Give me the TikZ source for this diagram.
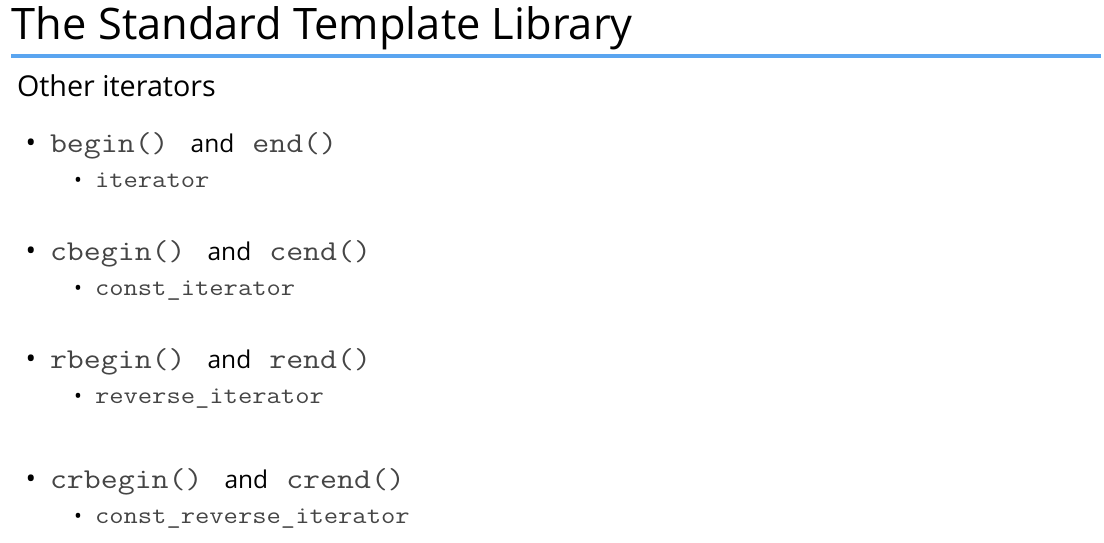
\documentclass[tikz,border=0pt]{standalone}
\usepackage{fontspec}
\setmainfont{Open Sans}
\newfontfamily\codefont[FakeStretch=1.143]{Latin Modern Mono}
\definecolor{rulecol}{HTML}{5AA5F0}
\definecolor{codecol}{HTML}{454545}
\newcommand{\cd}[1]{{\codefont\color{codecol}#1}}
\begin{document}
\begin{tikzpicture}[x=1pt,y=-1pt,
  txt/.style={anchor=base west,inner sep=0pt,outer sep=0pt},
  mainline/.style={txt,font=\fontsize{24.5}{28}\selectfont},
  subline/.style={txt,font=\fontsize{20}{24}\selectfont},
  bul/.style={anchor=base,inner sep=0pt,font=\fontsize{28}{30}\selectfont},
  sbul/.style={anchor=base,inner sep=0pt,font=\fontsize{21}{24}\selectfont}]
\useasboundingbox[fill=white] (0,0) rectangle (1104,543);
\node[txt,font=\fontsize{43.4}{48}\selectfont] (title) at (12,40) {The Standard Template Library};
\coordinate (rl) at (11,56);
\coordinate (rr) at (1101,56);
\draw[rulecol,line width=4pt] (rl) -- (rr);
\node[txt,font=\fontsize{28.7}{33}\selectfont] (sub) at (17,97) {Other iterators};
% rows
\foreach \y/\a/\b/\it/\n in {152/begin()/end()/iterator/r1, 260/cbegin()/cend()/const\_iterator/r2, 368/rbegin()/rend()/reverse\_iterator/r3, 488/crbegin()/crend()/const\_reverse\_iterator/r4}{
  \node[bul] (\n b) at (31,\y) {•};
  \node[mainline] (\n t) at (50,\y) {{\fontsize{28.8}{30}\selectfont\cd{\a}}\hspace{22pt}and\hspace{18pt}{\fontsize{28.8}{30}\selectfont\cd{\b}}};
  \node[sbul] (\n sb) at (78,\y+35) {•};
  \node[subline] (\n s) at (95,\y+35) {{\fontsize{24.3}{26}\selectfont\cd{\it}}};
}
\end{tikzpicture}
\end{document}
